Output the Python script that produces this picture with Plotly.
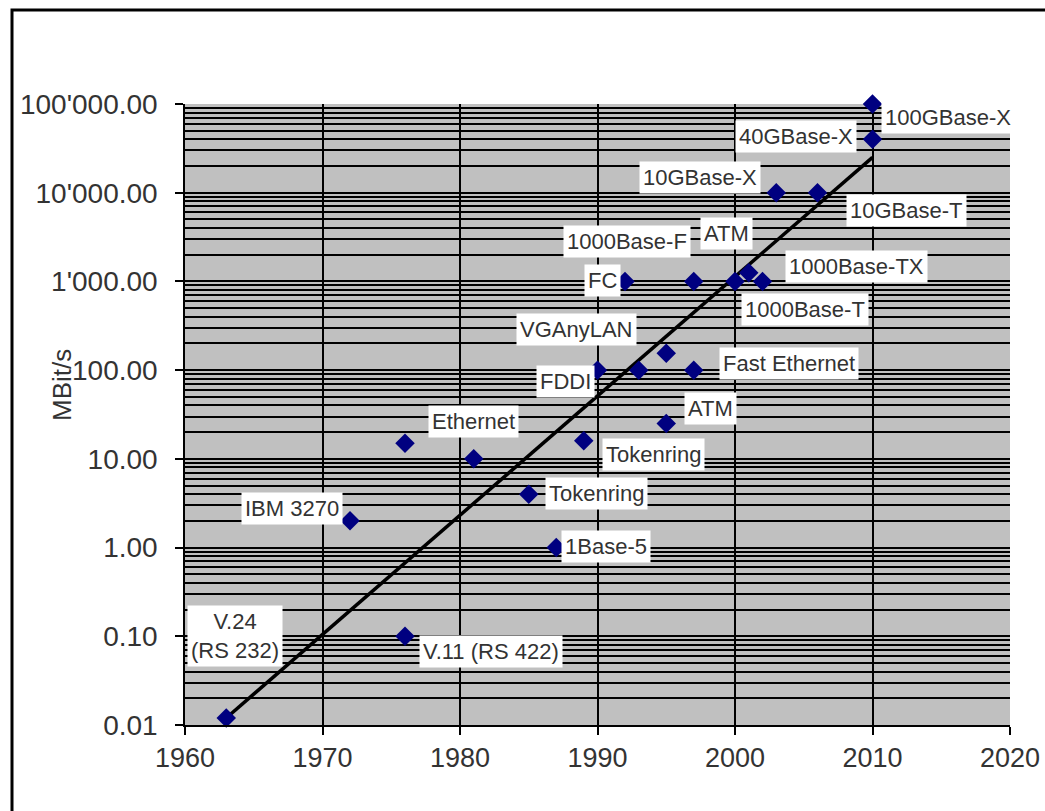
import plotly.graph_objects as go

# ---- data ----
years = [1963, 1976, 1972, 1976, 1981, 1985, 1989, 1987, 1990, 1993, 1995, 1997,
         1995, 1992, 1997, 2000, 2001, 2002, 2003, 2006, 2010, 2010]
speeds = [0.012, 0.1, 2, 15, 10, 4, 16, 1, 100, 100, 155, 100,
          25, 1000, 1000, 1000, 1250, 1000, 10000, 10000, 40000, 100000]

trend_years = [1963, 2010]
trend_speeds = [0.012, 25000]

label_texts = ["100GBase-X", "40GBase-X", "10GBase-X", "10GBase-T", "1000Base-F", "ATM",
               "1000Base-TX", "FC", "1000Base-T", "VGAnyLAN", "FDDI", "Fast Ethernet",
               "ATM", "Ethernet", "Tokenring", "Tokenring", "IBM 3270", "1Base-5",
               "V.24<br>(RS 232)", "V.11 (RS 422)"]
# label anchor positions (year, log10 MBit/s)
label_x = [2015.5, 2004.45, 1997.45, 2012.45, 1992.15, 1999.4, 2008.8, 1990.35, 2005.1,
           1988.5, 1987.65, 2003.9, 1998.25, 1981.0, 1994.1, 1989.95, 1967.8, 1990.6,
           1963.65, 1982.25]
label_logy = [4.843, 4.629, 4.167, 3.795, 3.445, 3.535, 3.163, 3.006, 2.679, 2.453,
              1.867, 2.07, 1.563, 1.416, 1.044, 0.604, 0.446, 0.007, -0.997, -1.177]

x_ticks = [1960, 1970, 1980, 1990, 2000, 2010, 2020]
y_tickvals = [0.01, 0.1, 1, 10, 100, 1000, 10000, 100000]
y_ticktext = ["0.01", "0.10", "1.00", "10.00", "100.00", "1'000.00", "10'000.00", "100'000.00"]
y_title = "MBit/s"

FONT = "Liberation Sans, Arial, sans-serif"
TXT = "#333333"

fig = go.Figure()
fig.add_trace(go.Scatter(x=trend_years, y=trend_speeds, mode="lines",
                         line=dict(color="black", width=3.5), hoverinfo="skip",
                         showlegend=False))
fig.add_trace(go.Scatter(x=years, y=speeds, mode="markers",
                         marker=dict(symbol="diamond", size=15, color="#000080"),
                         cliponaxis=False, showlegend=False))

for t, lx, ly in zip(label_texts, label_x, label_logy):
    fig.add_annotation(x=lx, y=ly, xref="x", yref="y", text=t, showarrow=False,
                       xanchor="center", yanchor="middle",
                       font=dict(family=FONT, size=22, color=TXT),
                       bgcolor="white", borderpad=3, align="center")

W, H = 1045, 811
L, R, T, B = 185, 35, 104, 86
pw, ph = W - L - R, H - T - B

def px2paper_x(px):
    return (px - L) / pw

def px2paper_y(py):
    return (H - B - py) / ph

# y-axis title
fig.add_annotation(x=px2paper_x(62), y=px2paper_y(385), xref="paper", yref="paper",
                   xanchor="center", yanchor="middle",
                   text=y_title, textangle=-90, showarrow=False,
                   font=dict(family=FONT, size=26, color=TXT))

# outer frame
fig.add_shape(type="rect", xref="paper", yref="paper",
              x0=px2paper_x(12), x1=px2paper_x(1060),
              y0=px2paper_y(830), y1=px2paper_y(10),
              line=dict(color="black", width=3), fillcolor="rgba(0,0,0,0)", layer="below")

fig.update_layout(
    width=W, height=H,
    margin=dict(l=L, r=R, t=T, b=B, autoexpand=False),
    paper_bgcolor="white", plot_bgcolor="#c0c0c0",
    font=dict(family=FONT, color=TXT),
    showlegend=False,
    xaxis=dict(range=[1960, 2020], tickvals=x_ticks, ticks="outside", ticklen=8,
               tickcolor="black", tickwidth=1.5, automargin=False,
               showgrid=True, gridcolor="black", gridwidth=1.5,
               showline=True, linecolor="black", linewidth=1.5,
               zeroline=False, tickfont=dict(size=27, color=TXT, family=FONT)),
    yaxis=dict(type="log", range=[-2, 5], tickvals=y_tickvals, ticktext=y_ticktext,
               ticks="outside", ticklen=8, tickcolor="black", tickwidth=1.5,
               automargin=False, ticklabelstandoff=12,
               showgrid=True, gridcolor="black", gridwidth=1.5,
               minor=dict(dtick="D1", showgrid=True, gridcolor="black", gridwidth=1.5,
                          ticks=""),
               showline=True, linecolor="black", linewidth=1.5,
               zeroline=False, tickfont=dict(size=28, color=TXT, family=FONT)),
)

fig.write_html("out.html", config={"displayModeBar": False},
               post_script="document.body.style.margin='0';document.body.style.overflow='hidden';")
